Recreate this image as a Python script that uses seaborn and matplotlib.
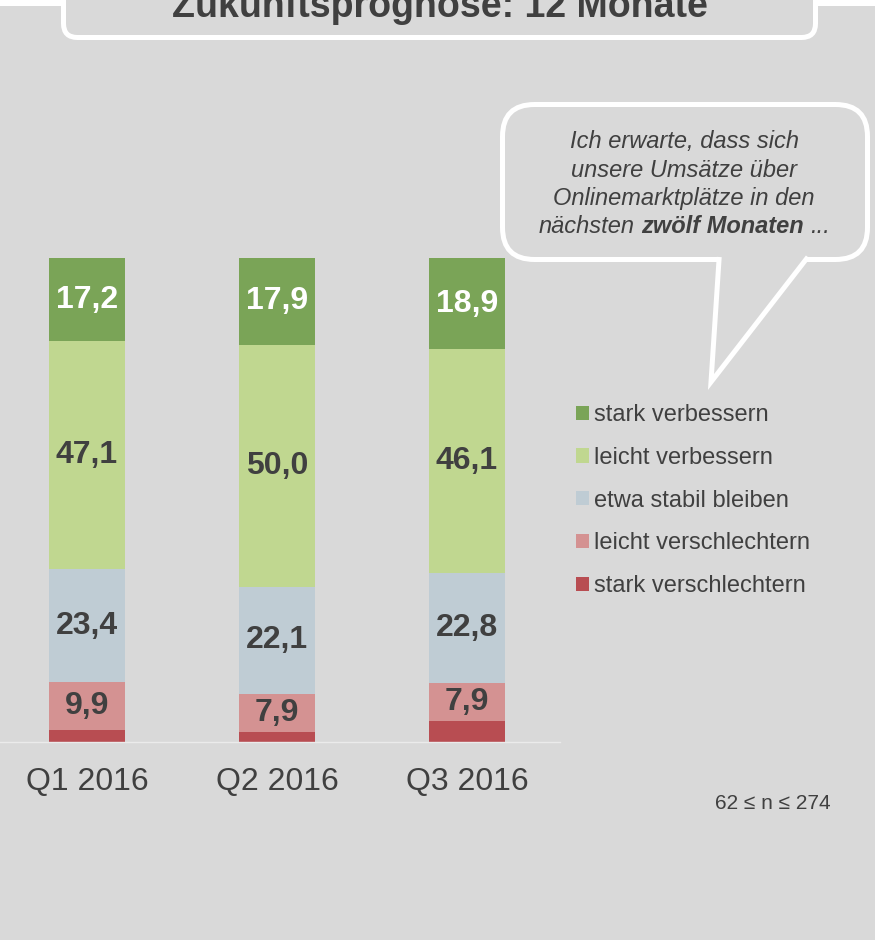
import numpy as np
import matplotlib.pyplot as plt
import seaborn as sns
from matplotlib.patches import FancyBboxPatch, Rectangle, Polygon, Patch
from matplotlib.offsetbox import TextArea, HPacker, AnnotationBbox

sns.set_style("white")
plt.rcParams['font.family'] = ['Liberation Sans', 'DejaVu Sans']

# data (percent)
quarters = ["Q1 2016", "Q2 2016", "Q3 2016"]
stark_verbessern = [17.2, 17.9, 18.9]
leicht_verbessern = [47.1, 50.0, 46.1]
etwa_stabil = [23.4, 22.1, 22.8]
leicht_verschlechtern = [9.9, 7.9, 7.9]
stark_verschlechtern = [2.4, 2.1, 4.3]

series_names = ["stark verbessern", "leicht verbessern", "etwa stabil bleiben",
                "leicht verschlechtern", "stark verschlechtern"]
series_values = [stark_verbessern, leicht_verbessern, etwa_stabil,
                 leicht_verschlechtern, stark_verschlechtern]
series_colors = ["#7AA457", "#C0D790", "#BFCCD4", "#D49292", "#B84D52"]
label_colors = ["white", "#404040", "#404040", "#404040", None]

GRAY = "#D9D9D9"
TXT = "#404040"
W, H = 875, 940

fig = plt.figure(figsize=(8.75, 9.4), dpi=100, facecolor="white")

# background layer, pixel coordinates
bg = fig.add_axes([0, 0, 1, 1], zorder=0)
bg.set_xlim(0, W)
bg.set_ylim(H, 0)
bg.axis("off")
bg.add_patch(Rectangle((0, 6), W, H, color=GRAY, lw=0))

# title box
bg.add_patch(FancyBboxPatch((63.5, -40), 752, 77.5, boxstyle="round,pad=0,rounding_size=14",
                            fc=GRAY, ec="white", lw=3.6))
bg.text(440, 17, "Zukunftsprognose: 12 Monate", ha="center", va="baseline",
        fontsize=27, weight="bold", color=TXT)

# speech bubble
bg.add_patch(FancyBboxPatch((502.5, 104.5), 365, 155, boxstyle="round,pad=0,rounding_size=32",
                            fc=GRAY, ec="white", lw=3.6))
bg.add_patch(Polygon([(719.4, 254), (711, 382), (810.3, 254)], closed=True, fc=GRAY, ec="none"))
bg.plot([719.2, 711, 807.9], [257, 382, 257], color="white", lw=3.6,
        solid_joinstyle="miter", solid_capstyle="butt")

bubble_lines = ["Ich erwarte, dass sich", "unsere Umsätze über", "Onlinemarktplätze in den"]
for line, yb in zip(bubble_lines, [148, 177, 205]):
    bg.text(684, yb, line, ha="center", va="baseline", fontsize=17, style="italic", color=TXT)
parts = [TextArea("nächsten", textprops=dict(style="italic", fontsize=17, color=TXT)),
         TextArea("zwölf Monaten", textprops=dict(style="italic", weight="bold", fontsize=17, color=TXT)),
         TextArea("...", textprops=dict(style="italic", fontsize=17, color=TXT))]
pack = HPacker(children=parts, align="baseline", pad=0, sep=4.7)
bg.add_artist(AnnotationBbox(pack, (684, 238), xycoords="data", frameon=False,
                             box_alignment=(0.5, 0), pad=0))

# stacked bars
ax = fig.add_axes([0, 1 - 742 / H, 560 / W, 484 / H], zorder=1)
ax.set_facecolor("none")

base = np.zeros(len(quarters))
for vals, col in zip(series_values[::-1], series_colors[::-1]):
    sns.barplot(x=quarters, y=vals, bottom=base.copy(), color=col, width=0.4,
                saturation=1, errorbar=None, linewidth=0, ax=ax)
    base += np.array(vals)

for cont, vals, lc in zip(ax.containers, series_values[::-1], label_colors[::-1]):
    if lc is None:
        continue
    ax.bar_label(cont, labels=[f"{v:.1f}".replace(".", ",") for v in vals],
                 label_type="center", fontsize=23, weight="bold", color=lc)

ax.set_xlim(-0.458, 2.49)
ax.set_ylim(0, 100)
ax.set_yticks([])
ax.set_xlabel("")
ax.set_ylabel("")
for s in ["top", "right", "left"]:
    ax.spines[s].set_visible(False)
ax.spines["bottom"].set_color("#EBEBEB")
ax.spines["bottom"].set_linewidth(1)
ax.tick_params(axis="x", length=0, pad=18, labelsize=23, labelcolor=TXT)

# legend
handles = [Patch(facecolor=c, edgecolor="none", label=n) for n, c in zip(series_names, series_colors)]
fig.legend(handles=handles, loc="upper left", bbox_to_anchor=(576 / W, 1 - 404 / H),
           frameon=False, fontsize=17, handlelength=0.55, handleheight=0.55,
           handletextpad=0.22, labelspacing=0.88, borderpad=0, borderaxespad=0,
           labelcolor=TXT)

bg.text(773, 809, "62 ≤ n ≤ 274", ha="center", va="baseline", fontsize=15, color=TXT)

fig.savefig("out.png", dpi=100, facecolor=fig.get_facecolor())
